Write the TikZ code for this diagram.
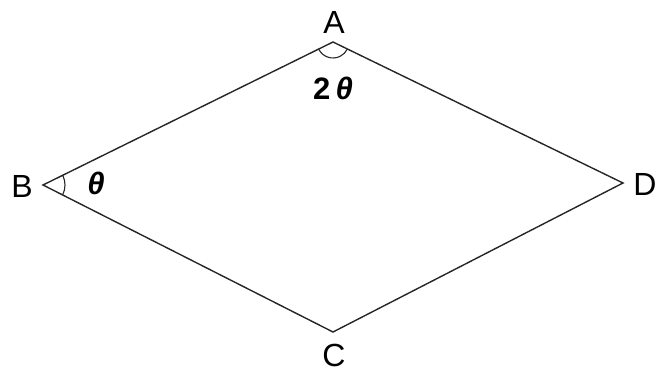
\documentclass[tikz,border=0pt]{standalone}
\usepackage{fontspec}
\setmainfont{Liberation Sans}
\usetikzlibrary{angles}
\begin{document}
\begin{tikzpicture}[x=1pt,y=-1pt,
  edge/.style={draw=black!85,line width=1.4pt},
  vlabel/.style={font=\fontsize{32}{32}\selectfont,inner sep=0pt},
  alabel/.style={font=\fontsize{31}{31}\selectfont\bfseries,inner sep=0pt},
  angarc/.style={draw=black!85,line width=1.1pt}]
\useasboundingbox (0,0) rectangle (659,374);
\coordinate (A) at (333,42);
\coordinate (B) at (43,185);
\coordinate (C) at (333,332);
\coordinate (D) at (623,183);
\draw[edge] (A) -- (B) -- (C) -- (D) -- cycle;
\pic[angarc,angle radius=16pt] {angle=B--A--D};
\pic[angarc,angle radius=22pt] {angle=C--B--A};
\node[vlabel] (la) at (334,22) {A};
\node[vlabel] (lb) at (22,186) {B};
\node[vlabel] (lc) at (334,355) {C};
\node[vlabel] (ld) at (645,184) {D};
\node[alabel] (t2) at (333,88) {2\,\textit{θ}};
\node[alabel] (t1) at (96,183) {\textit{θ}};
\end{tikzpicture}
\end{document}
